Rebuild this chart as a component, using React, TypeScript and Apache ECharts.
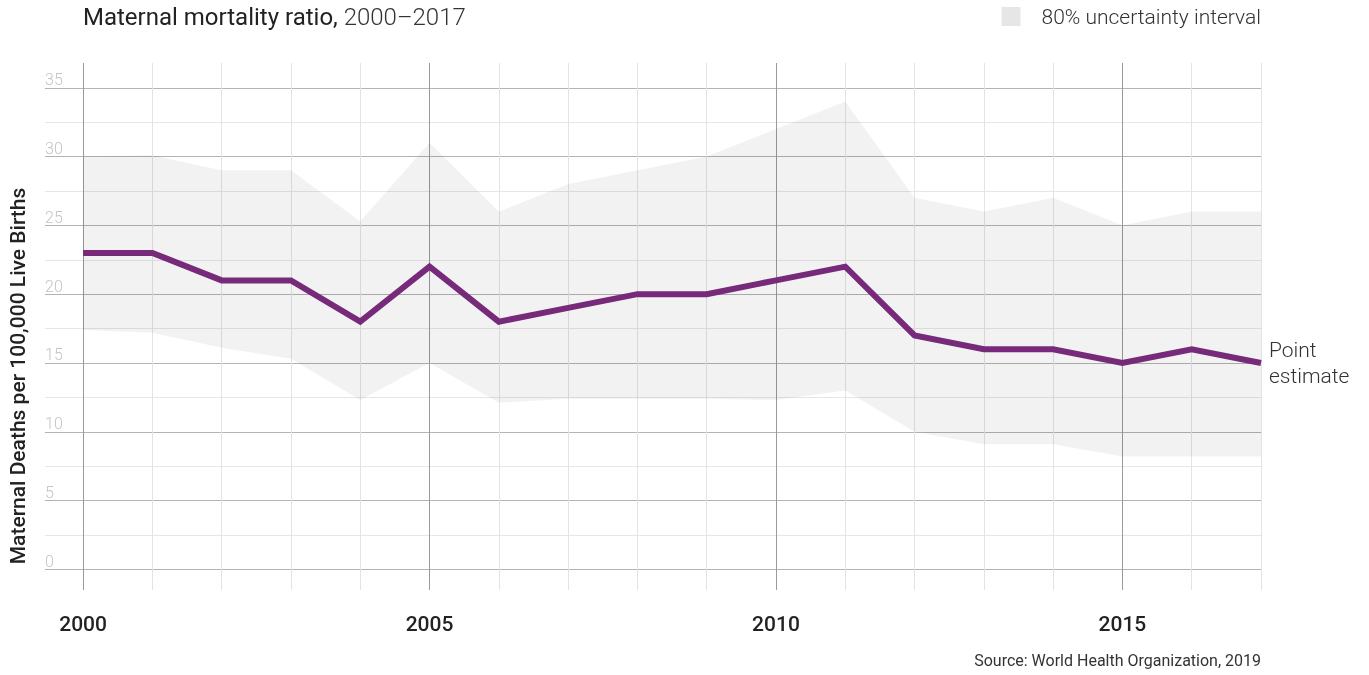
import React, { useEffect, useRef } from "react";
import * as echarts from "echarts";

const years = [2000, 2001, 2002, 2003, 2004, 2005, 2006, 2007, 2008, 2009, 2010, 2011, 2012, 2013, 2014, 2015, 2016, 2017];
const pointEstimate = [23, 23, 21, 21, 18, 22, 18, 19, 20, 20, 21, 22, 17, 16, 16, 15, 16, 15];
const upperBound = [30, 30.1, 29, 29, 25.3, 31, 26, 28, 29, 30, 32, 34, 27, 26, 27, 25, 26, 26];
const lowerBound = [17.4, 17.2, 16.1, 15.3, 12.3, 15, 12.1, 12.4, 12.4, 12.4, 12.3, 13, 10, 9.1, 9.1, 8.2, 8.2, 8.2];
const yLabelTicks = [0, 5, 10, 15, 20, 25, 30, 35];
const yGridTicks = [0, 2.5, 5, 7.5, 10, 12.5, 15, 17.5, 20, 22.5, 25, 27.5, 30, 32.5, 35];
const xLabelTicks = [2000, 2005, 2010, 2015];

const FONT = "Roboto, 'Noto Sans', sans-serif";

export default function App() {
  const ref = useRef<HTMLDivElement>(null);
  useEffect(() => {
    if (!ref.current) return;
    const chart = echarts.init(ref.current, undefined, { renderer: "svg" });
    const bandName = "80% uncertainty interval";
    chart.setOption({
      animation: false,
      textStyle: { fontFamily: FONT },
      title: {
        text: "{a|Maternal mortality ratio,}{b| 2000–2017}",
        left: 78,
        top: 0,
        textStyle: {
          rich: {
            a: { fontSize: 24, color: "#222", fontFamily: FONT, fontWeight: 400 },
            b: { fontSize: 24, color: "#333", fontFamily: FONT, fontWeight: 300 },
          },
        },
      },
      legend: {
        right: 103,
        top: 1,
        itemWidth: 19,
        itemHeight: 19,
        icon: "rect",
        data: [{ name: bandName, itemStyle: { color: "#e6e6e6" } }],
        textStyle: { fontSize: 21, color: "#333", fontWeight: 300, fontFamily: FONT, padding: [2, 0, 0, 16] },
      },
      grid: { left: 45, right: 108, top: 63, bottom: 85 },
      xAxis: {
        type: "value",
        min: 1999.45,
        max: 2017,
        axisLine: { show: false },
        axisTick: { show: false, customValues: years },
        axisLabel: {
          customValues: xLabelTicks,
          fontSize: 21,
          fontWeight: 500,
          color: "#222",
          margin: 23,
          fontFamily: FONT,
          formatter: (v: number) => String(v),
        },
        splitLine: {
          show: true,
          lineStyle: { color: ["#9a9a9a", "#e3e3e3", "#e3e3e3", "#e3e3e3", "#e3e3e3"], width: 1 },
        },
      },
      yAxis: {
        type: "value",
        min: -1.5,
        max: 36.8,
        axisLine: { show: false },
        axisTick: { show: false, customValues: yGridTicks },
        axisLabel: {
          customValues: yLabelTicks,
          inside: true,
          margin: 0,
          fontSize: 16,
          fontWeight: 300,
          color: "#c4c4c4",
          verticalAlign: "bottom",
          align: "left",
          fontFamily: FONT,
        },
        splitLine: { show: true, lineStyle: { color: ["#b3b3b3", "#e6e6e6"], width: 1 } },
      },
      series: [
        {
          name: bandName,
          type: "custom",
          data: years.map((y, i) => [y, lowerBound[i], upperBound[i]]),
          encode: { x: 0, y: [1, 2] },
          itemStyle: { color: "#e6e6e6" },
          silent: true,
          renderItem: (params: any, api: any) => {
            if (params.dataIndex !== 0) return null;
            const pts: number[][] = [];
            for (let i = 0; i < years.length; i++) pts.push(api.coord([years[i], upperBound[i]]));
            for (let i = years.length - 1; i >= 0; i--) pts.push(api.coord([years[i], lowerBound[i]]));
            return {
              type: "polygon",
              shape: { points: pts },
              style: { fill: "rgba(0,0,0,0.05)" },
            };
          },
        },
        {
          name: "Point estimate",
          type: "line",
          data: years.map((y, i) => [y, pointEstimate[i]]),
          symbol: "none",
          lineStyle: { color: "#772a7a", width: 6, join: "miter" },
          itemStyle: { color: "#772a7a" },
          endLabel: {
            show: true,
            formatter: "Point\nestimate",
            color: "#333",
            fontSize: 21,
            fontWeight: 300,
            lineHeight: 26,
            distance: 8,
            fontFamily: FONT,
          },
        },
      ],
      graphic: [
        {
          type: "text",
          x: 18,
          y: 376,
          rotation: Math.PI / 2,
          style: {
            text: "Maternal Deaths per 100,000 Live Births",
            fontSize: 21,
            fontWeight: 500,
            fill: "#222",
            fontFamily: FONT,
            textAlign: "center",
            textVerticalAlign: "middle",
          },
        },
        {
          type: "text",
          right: 108,
          top: 652,
          style: {
            text: "Source: World Health Organization, 2019",
            fontSize: 16,
            fill: "#333",
            fontFamily: FONT,
          },
        },
      ],
    });
    return () => chart.dispose();
  }, []);
  return <div ref={ref} style={{ position: "fixed", left: 0, top: 0, width: 1369, height: 675 }} />;
}
